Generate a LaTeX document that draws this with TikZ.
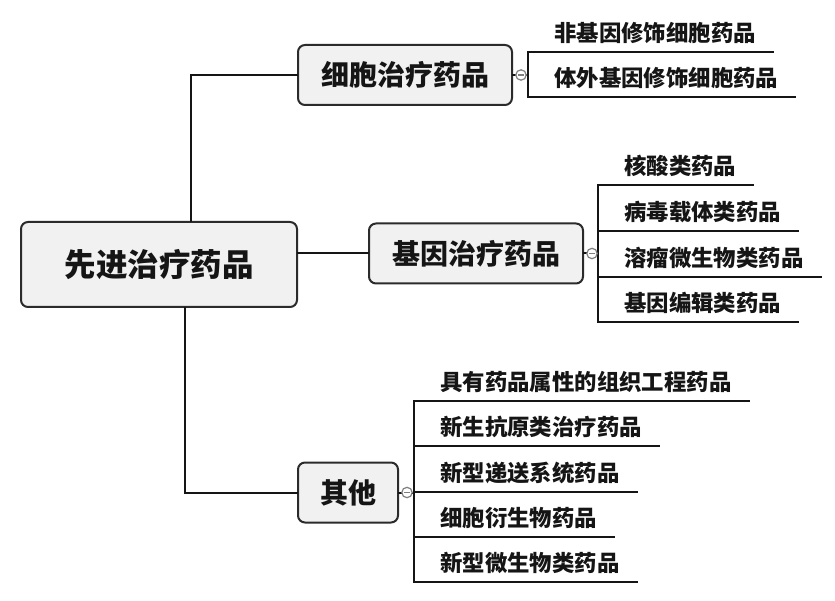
\documentclass[tikz,border=0pt]{standalone}
\usepackage{fontspec}
\newfontfamily\cjk{Noto Sans CJK SC}
\usetikzlibrary{calc}
\definecolor{boxfill}{HTML}{F1F1F1}
\definecolor{boxline}{HTML}{2B2B2B}
\definecolor{ink}{HTML}{151515}
\definecolor{knobgray}{HTML}{7F7F7F}
\tikzset{
  topic/.style={draw=boxline, line width=2pt, fill=boxfill, rounded corners=7pt, text=ink,
    font=\cjk\bfseries\fontsize{28}{32}\selectfont, inner sep=0pt, minimum height=60pt},
  roottopic/.style={topic, font=\cjk\bfseries\fontsize{31.5}{36}\selectfont,
    minimum width=276pt, minimum height=85pt},
  leaftext/.style={inner sep=0pt, anchor=west, text=ink,
    font=\cjk\bfseries\fontsize{22.4}{26}\selectfont},
  conn/.style={draw=ink, line width=2pt, line cap=rect},
  knob/.style={draw=knobgray, line width=1.2pt, fill=white},
}
\newcommand\leafitem[4]{%
  \node[leaftext] (#1) at ({#2+26},{#3-19}) {#4};
  \draw[conn] (#2,#3) -- ($(#1.east)+(17,19)$);
}
\newcommand\knobat[1]{%
  \draw[knob] ($(#1.east)+(8,0)$) circle (5.2);
  \draw[knobgray, line width=1.2pt] ($(#1.east)+(5,0)$) -- ($(#1.east)+(11,0)$);
}
\begin{document}
\begin{tikzpicture}[x=1pt,y=-1pt]
\useasboundingbox[fill=white] (0,0) rectangle (835,601);

% topics
\node[roottopic] (root) at (159,264.5) {先进治疗药品};
\node[topic, minimum width=214pt] (cell) at (405,75) {细胞治疗药品};
\node[topic, minimum width=214pt] (gene) at (476,253.5) {基因治疗药品};
\node[topic, minimum width=100pt] (other) at (348,492.5) {其他};

% main connectors
\coordinate (ux) at (191,0);
\coordinate (dx) at (185,0);
\draw[conn] (ux |- root.north) |- (cell.west);
\draw[conn] (dx |- root.south) |- (other.west);
\draw[conn] (root.east |- gene.west) -- (gene.west);

% cell group
\coordinate (cb) at (528,75);
\draw[conn] (cell.east) -- (cb);
\draw[conn] (528,52) -- (528,97);
\leafitem{c1}{528}{52}{非基因修饰细胞药品}
\leafitem{c2}{528}{97}{体外基因修饰细胞药品}
\knobat{cell}

% gene group
\coordinate (gb) at (598,253.5);
\draw[conn] (gene.east) -- (gb);
\draw[conn] (598,185) -- (598,322);
\leafitem{g1}{598}{185}{核酸类药品}
\leafitem{g2}{598}{231}{病毒载体类药品}
\leafitem{g3}{598}{277}{溶瘤微生物类药品}
\leafitem{g4}{598}{322}{基因编辑类药品}
\knobat{gene}

% other group
\coordinate (ob) at (414,492.5);
\draw[conn] (other.east) -- (ob);
\draw[conn] (414,401) -- (414,582);
\leafitem{o1}{414}{401}{具有药品属性的组织工程药品}
\leafitem{o2}{414}{446}{新生抗原类治疗药品}
\leafitem{o3}{414}{492}{新型递送系统药品}
\leafitem{o4}{414}{537}{细胞衍生物药品}
\leafitem{o5}{414}{582}{新型微生物类药品}
\knobat{other}
\end{tikzpicture}
\end{document}
